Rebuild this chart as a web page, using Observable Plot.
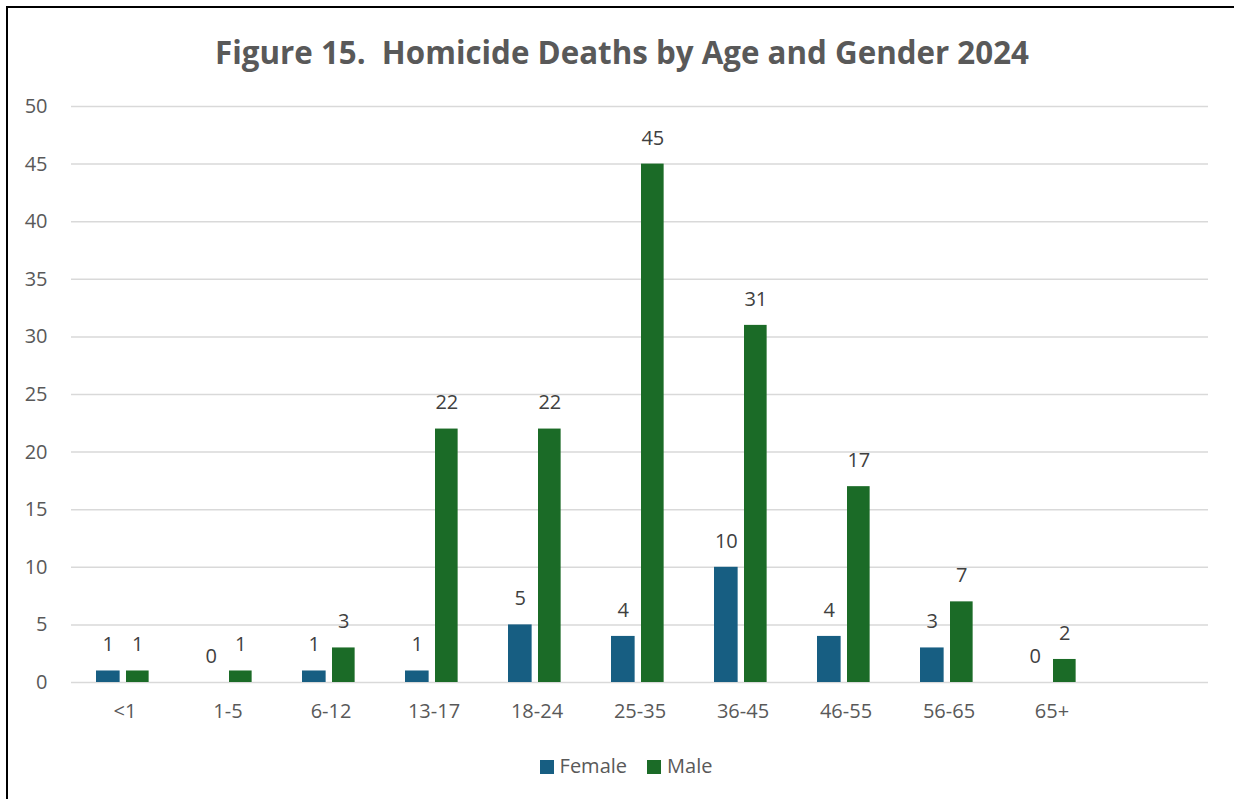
<!DOCTYPE html>
<html><head><meta charset="utf-8">
<script src="https://cdn.jsdelivr.net/npm/d3@7"></script>
<script src="https://cdn.jsdelivr.net/npm/@observablehq/plot@0.6"></script>
<style>
html,body{margin:0;padding:0;background:#fff;width:1234px;height:799px;overflow:hidden;}
#frame{position:absolute;left:6px;top:6px;width:1300px;height:900px;border-left:2px solid #000;border-top:2px solid #000;}
#title{position:absolute;left:0;top:34px;width:1244px;text-align:center;font:bold 31.3px "Open Sans";color:#595959;line-height:36px;white-space:pre;}
#chart{position:absolute;left:0;top:90px;}
#legend{position:absolute;left:0;top:754px;width:1252px;text-align:center;font:20px "Open Sans";color:#595959;line-height:24px;}
#legend span.sw{display:inline-block;width:14px;height:14px;margin-right:6px;vertical-align:-1px;}
#legend span.item{margin:0 10px;}
</style></head>
<body>
<div id="frame"></div>
<div id="title">Figure 15.  Homicide Deaths by Age and Gender 2024</div>
<div id="chart"></div>
<div id="legend"></div>
<script>
const categories = ["<1","1-5","6-12","13-17","18-24","25-35","36-45","46-55","56-65","65+"];
const female = [1,0,1,1,5,4,10,4,3,0];
const male = [1,1,3,22,22,45,31,17,7,2];
const series = ["Female","Male"];
const colors = ["#175e82","#1b6b27"];
const yTicks = [0,5,10,15,20,25,30,35,40,45,50];

const domain = [...categories, " "]; // trailing empty slot as in the reference
const rows = [];
categories.forEach((c,i)=>{
  rows.push({cat:c, gender:"Female", value:female[i]});
  rows.push({cat:c, gender:"Male", value:male[i]});
});
const fRows = rows.filter(d=>d.gender==="Female");
const mRows = rows.filter(d=>d.gender==="Male");

const W = 1234, H = 700;
const mL = 71, mR = 26, mT = 16, mB = 108;
const step = (W - mL - mR) / domain.length;
const fIn = {insetLeft: 23, insetRight: step - 47};
const mIn = {insetLeft: 53, insetRight: step - 76};
const fDx = (23 + 47)/2 - step/2;
const mDx = (53 + 76)/2 - step/2;

const chart = Plot.plot({
  width: W, height: H,
  marginLeft: mL, marginRight: mR, marginTop: mT, marginBottom: mB,
  style: {fontFamily: "Open Sans", fontSize: "20px", color: "#595959", background: "transparent"},
  x: {domain, padding: 0, label: null, tickSize: 0, tickPadding: 21},
  y: {domain: [0,50], ticks: yTicks, label: null, tickSize: 0, tickPadding: 24},
  marks: [
    Plot.ruleY(yTicks, {stroke: "#d9d9d9", strokeWidth: 1.5, strokeOpacity: 1}),
    Plot.barY(fRows, {x: "cat", y: "value", fill: colors[0], ...fIn}),
    Plot.barY(mRows, {x: "cat", y: "value", fill: colors[1], ...mIn}),
    Plot.text(fRows, {x: "cat", y: "value", text: d=>String(d.value), dx: fDx, dy: -26, fill: "#404040", fontSize: 20}),
    Plot.text(mRows, {x: "cat", y: "value", text: d=>String(d.value), dx: mDx, dy: -26, fill: "#404040", fontSize: 20}),
  ]
});
document.getElementById("chart").appendChild(chart);

const lg = document.getElementById("legend");
series.forEach((s,i)=>{
  const it = document.createElement("span"); it.className="item";
  const sw = document.createElement("span"); sw.className="sw"; sw.style.background=colors[i];
  it.appendChild(sw); it.appendChild(document.createTextNode(s));
  lg.appendChild(it);
});
</script>
</body></html>
